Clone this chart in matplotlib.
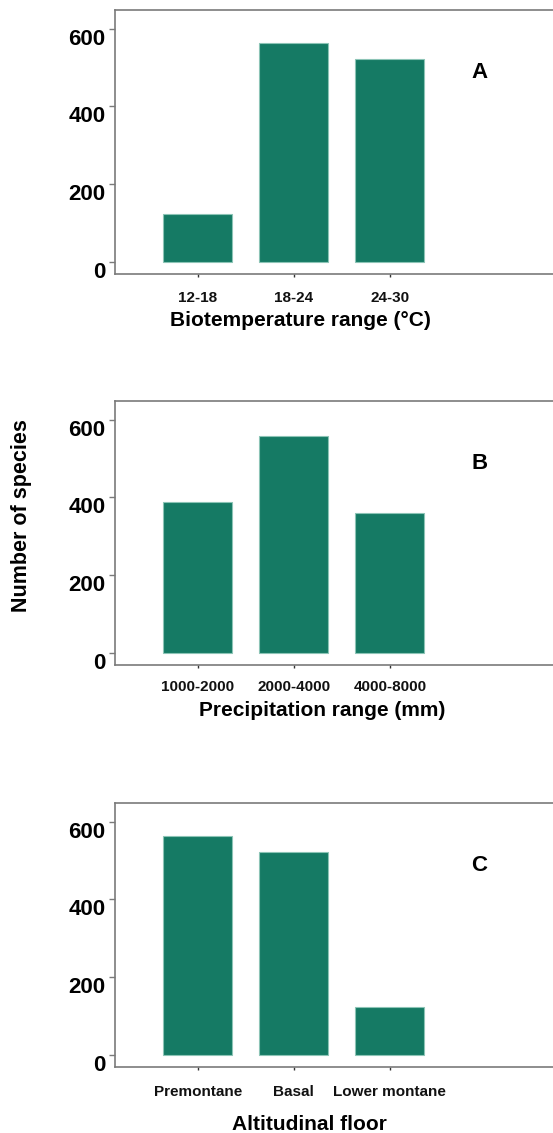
import matplotlib
matplotlib.use("Agg")
import matplotlib.pyplot as plt
import matplotlib.transforms as mtransforms

plt.rcParams['font.family'] = ['Liberation Sans', 'DejaVu Sans']

# data
temp_ranges = ['12-18', '18-24', '24-30']
temp_counts = [124, 564, 523]

precip_ranges = ['1000-2000', '2000-4000', '4000-8000']
precip_counts = [388, 558, 361]

floors = ['Premontane', 'Basal', 'Lower montane']
floor_counts = [564, 522, 123]

W, H = 553, 1133
fig = plt.figure(figsize=(W / 100, H / 100), dpi=100)

bar_color = '#157a64'
edge_color = '#8cc4b6'
spine_color = '#7a7a7a'

panels = [
    # categories, values, letter, top px, xlabel, xlabel (x, y) px, tick pad
    (temp_ranges, temp_counts, 'A', 10, 'Biotemperature range (\u00b0C)', (300, 320), 10),
    (precip_ranges, precip_counts, 'B', 401, 'Precipitation range (mm)', (322, 710), 9),
    (floors, floor_counts, 'C', 803, 'Altitudinal floor', (309, 1124), 11),
]

left_px, right_px, height_px = 115, 582, 264

for cats, vals, letter, top_px, xlab, (lx, ly), pad in panels:
    ax = fig.add_axes([left_px / W, 1 - (top_px + height_px) / H,
                       (right_px - left_px) / W, height_px / H])
    x = list(range(len(cats)))
    ax.bar(x, vals, width=0.72, color=bar_color, edgecolor=edge_color, linewidth=0.8)
    ax.set_xlim(-0.86, 4.0)
    ax.set_ylim(-31, 648)

    for side in ['left', 'top', 'bottom', 'right']:
        ax.spines[side].set_color(spine_color)
        ax.spines[side].set_linewidth(1.2)

    ax.set_yticks([0, 200, 400, 600])
    ax.set_yticklabels(['0', '200', '400', '600'], fontsize=16, fontweight='bold')
    ax.tick_params(axis='y', length=4, width=1, color=spine_color, pad=3)
    # labels in the original sit a bit below their ticks
    offset = mtransforms.ScaledTranslation(0, -8 / 100, fig.dpi_scale_trans)
    for lbl in ax.get_yticklabels():
        lbl.set_transform(lbl.get_transform() + offset)

    ax.set_xticks(x)
    ax.set_xticklabels(cats, fontsize=11, fontweight='bold', color='#111111')
    ax.tick_params(axis='x', length=2, width=1, color='#333333', pad=pad)

    ax.text(2.93, 488, letter, fontsize=16, fontweight='bold', ha='center', va='center')

    fig.text(lx / W, 1 - ly / H, xlab, fontsize=15, fontweight='bold',
             ha='center', va='center')

fig.text(22 / W, 1 - 516 / H, 'Number of species', rotation=90, fontsize=15.5,
         fontweight='bold', ha='center', va='center')

fig.savefig('out.png', dpi=100)
